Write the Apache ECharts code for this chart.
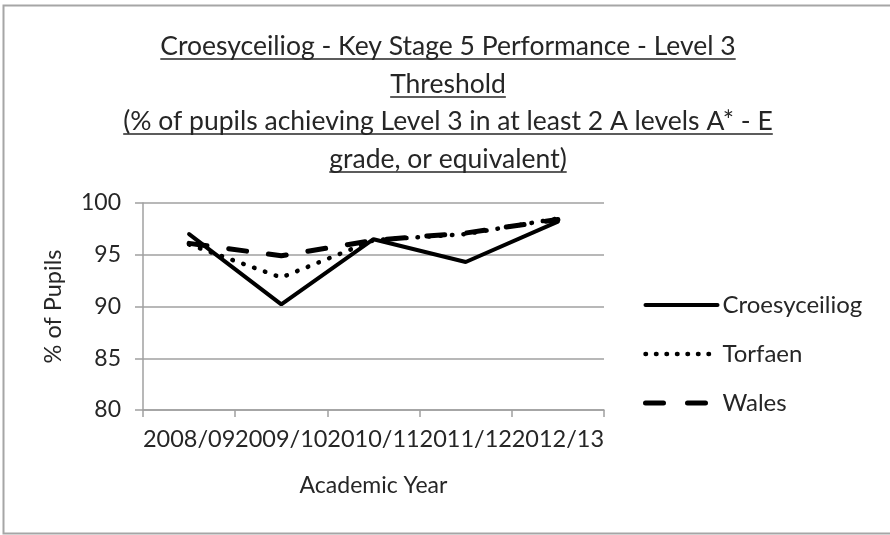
<!DOCTYPE html>
<html>
<head>
<meta charset="utf-8">
<script src="https://cdn.jsdelivr.net/npm/echarts@6/dist/echarts.min.js"></script>
<style>
  html, body { margin: 0; padding: 0; background: #fff; }
  #main { width: 890px; height: 535px; }
</style>
</head>
<body>
<div id="main"></div>
<script>
var years = ['2008/09', '2009/10', '2010/11', '2011/12', '2012/13'];
var croesyceiliog = [97.0, 90.2, 96.5, 94.3, 98.2];
var torfaen = [96.0, 92.8, 96.4, 97.0, 98.5];
var wales = [96.1, 94.9, 96.4, 97.1, 98.4];
var yTicks = [80, 85, 90, 95, 100];
var titleLines = [
    'Croesyceiliog - Key Stage 5 Performance - Level 3',
    'Threshold',
    '(% of pupils achieving Level 3 in at least 2 A levels A* - E',
    'grade, or equivalent)'
];

var FONT = 'Lato';
var myChart = echarts.init(document.getElementById('main'));

// title drawn by hand so it can be underlined
var ctx = document.createElement('canvas').getContext('2d');
var titleSize = 26.5;
ctx.font = titleSize + 'px ' + FONT;
var titleGraphics = [];
var lineY = [46, 84, 121, 159];
titleLines.forEach(function (t, i) {
    var w = ctx.measureText(t).width;
    titleGraphics.push({
        type: 'text',
        x: 448, y: lineY[i],
        style: {
            text: t, fill: '#262626',
            font: titleSize + 'px ' + FONT,
            textAlign: 'center', textVerticalAlign: 'middle'
        }
    });
    titleGraphics.push({
        type: 'line',
        shape: {x1: 448 - w / 2, y1: lineY[i] + 13, x2: 448 + w / 2, y2: lineY[i] + 13},
        style: {stroke: '#262626', lineWidth: 1.5}
    });
});

var solid = {color: '#000', width: 4, cap: 'round'};
var dotted = {color: '#000', width: 4.5, type: [0.5, 11], cap: 'round'};
var dashed = {color: '#000', width: 5, type: [18, 22], cap: 'round'};

option = {
    backgroundColor: '#fff',
    animation: false,
    graphic: [{
        type: 'rect',
        shape: {x: 3.5, y: 5.5, width: 900, height: 528},
        style: {fill: 'none', stroke: '#a6a6a6', lineWidth: 2}
    }].concat(titleGraphics),
    legend: {
        orient: 'vertical',
        left: 638,
        top: 288,
        itemWidth: 72,
        itemHeight: 14,
        itemGap: 25,
        itemStyle: {opacity: 0},
        textStyle: {color: '#262626', fontSize: 24, fontFamily: FONT},
        data: [
            {name: 'Croesyceiliog', lineStyle: solid},
            {name: 'Torfaen', lineStyle: {color: '#000', width: 4.5, type: [0.5, 10], cap: 'round'}},
            {name: 'Wales', lineStyle: {color: '#000', width: 5, type: [18, 24], cap: 'round'}}
        ]
    },
    grid: {
        left: 143,
        right: 286,
        top: 203,
        bottom: 125
    },
    xAxis: {
        type: 'category',
        data: years,
        name: 'Academic Year',
        nameLocation: 'middle',
        nameGap: 64,
        nameTextStyle: {color: '#262626', fontSize: 23, fontFamily: FONT},
        axisLine: {lineStyle: {color: '#a0a0a0', width: 1.5}},
        axisTick: {show: true, length: 7, lineStyle: {color: '#a0a0a0', width: 1.5}},
        axisLabel: {
            interval: 0,
            margin: 17,
            color: '#262626',
            fontSize: 23.5,
            fontFamily: FONT
        }
    },
    yAxis: {
        type: 'value',
        min: yTicks[0],
        max: yTicks[yTicks.length - 1],
        interval: 5,
        name: '% of Pupils',
        nameLocation: 'middle',
        nameGap: 78,
        nameTextStyle: {color: '#262626', fontSize: 23.5, fontFamily: FONT},
        axisLine: {show: true, lineStyle: {color: '#a0a0a0', width: 1.5}},
        axisTick: {show: true, length: 8, lineStyle: {color: '#a0a0a0', width: 1.5}},
        splitLine: {lineStyle: {color: '#a0a0a0', width: 1.5}},
        axisLabel: {
            margin: 22,
            color: '#262626',
            fontSize: 23,
            fontFamily: FONT
        }
    },
    series: [
        {
            name: 'Croesyceiliog',
            type: 'line',
            symbol: 'none',
            data: croesyceiliog,
            lineStyle: solid,
            itemStyle: {color: '#000'}
        },
        {
            name: 'Torfaen',
            type: 'line',
            symbol: 'none',
            data: torfaen,
            lineStyle: dotted,
            itemStyle: {color: '#000'}
        },
        {
            name: 'Wales',
            type: 'line',
            symbol: 'none',
            data: wales,
            lineStyle: dashed,
            itemStyle: {color: '#000'}
        }
    ]
};

myChart.setOption(option);
</script>
</body>
</html>
